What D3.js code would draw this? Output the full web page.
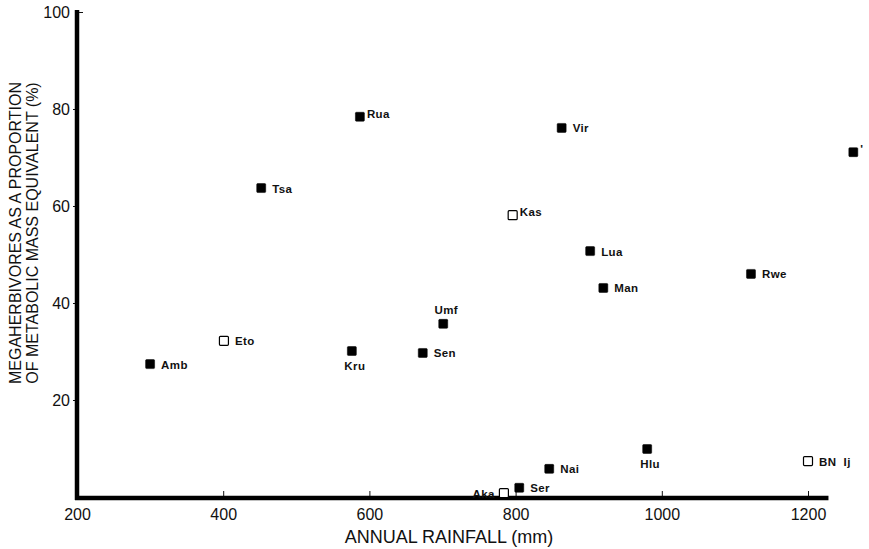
<!DOCTYPE html>
<html>
<head>
<meta charset="utf-8">
<script src="https://cdn.jsdelivr.net/npm/d3@7"></script>
<style>
  body { margin: 0; background: #fff; }
  svg { display: block; }
  .tick text { font-family: "Liberation Sans", Arial, sans-serif; font-size: 16px; fill: #111; }
  .site { font-family: "Liberation Sans", Arial, sans-serif; font-size: 11.5px; font-weight: bold; letter-spacing: 0.4px; fill: #111; white-space: pre; }
  .x-title { font-family: "Liberation Sans Narrow", "Arial Narrow", "Liberation Sans", sans-serif; font-size: 18px; fill: #111; }
  .y-title { font-family: "Liberation Sans", Arial, sans-serif; font-size: 16px; fill: #111; }
</style>
</head>
<body>
<div id="chart"></div>
<script>
// site codes, annual rainfall (mm) and megaherbivore share (%)
var sites    = ["Amb", "Eto", "Tsa", "Rua", "Kru", "Sen", "Umf", "Kas", "Vir", "Lua", "Man", "Rwe", "Hlu", "Nai", "Ser", "Aka", "BN  Ij", "'"];
var rainfall = [300, 401, 452, 587, 576, 673, 701, 796, 863, 902, 920, 1122, 980, 846, 805, 784, 1200, 1262];
var megaPct  = [27.4, 32.2, 63.7, 78.4, 30.1, 29.7, 35.7, 58.1, 76.1, 50.7, 43.1, 46.0, 9.9, 5.8, 1.9, 0.8, 7.4, 71.1];
var isOpen   = [false, true, false, false, false, false, false, true, false, false, false, false, false, false, false, true, true, false];
// where the label sits relative to its marker
var labelSide = ["r", "r", "r", "sup", "b", "r", "t", "sup", "r", "r", "r", "r", "b", "r", "r", "l", "r", "sup"];

var xTicks = [200, 400, 600, 800, 1000, 1200];
var yTicks = [20, 40, 60, 80, 100];

var width = 869, height = 549;

var x = d3.scaleLinear().domain([200, 1200]).range([77, 808]);
var y = d3.scaleLinear().domain([0, 100]).range([497, 12]);

var svg = d3.select("#chart").append("svg")
    .attr("width", width)
    .attr("height", height);

// x axis: small inward ticks, labels below
var gx = svg.append("g")
    .attr("transform", "translate(0," + y(0) + ")")
    .call(d3.axisBottom(x).tickValues(xTicks).tickFormat(d3.format("d")).tickSizeInner(-6).tickSizeOuter(0).tickPadding(12));
gx.select(".domain").remove();
gx.selectAll(".tick line").attr("stroke", "#111").attr("stroke-width", 1);
gx.selectAll(".tick").filter(function(d) { return d === 200; }).select("line").remove();

// y axis: small outward ticks
var gy = svg.append("g")
    .attr("transform", "translate(" + x(200) + ",0)")
    .call(d3.axisLeft(y).tickValues(yTicks).tickSizeInner(4).tickSizeOuter(0).tickPadding(3));
gy.select(".domain").remove();
gy.selectAll(".tick line").attr("stroke", "#111").attr("stroke-width", 1);
gy.selectAll(".tick").filter(function(d) { return d === 100; }).select("line")
    .attr("x2", 6);

// heavy axis lines
svg.append("line")
    .attr("x1", x(200) - 2).attr("x2", x(1228))
    .attr("y1", y(0) + 1).attr("y2", y(0) + 1)
    .attr("stroke", "#000").attr("stroke-width", 4.5);
svg.append("line")
    .attr("x1", x(200)).attr("x2", x(200))
    .attr("y1", y(100.4)).attr("y2", y(0) + 3)
    .attr("stroke", "#000").attr("stroke-width", 4.5);

// axis titles
svg.append("text")
    .attr("class", "x-title")
    .attr("x", 449).attr("y", 543)
    .attr("text-anchor", "middle")
    .text("ANNUAL RAINFALL (mm)");

var yt = svg.append("text")
    .attr("class", "y-title")
    .attr("transform", "translate(0,233) rotate(-90)")
    .attr("text-anchor", "middle");
yt.append("tspan").attr("x", 0).attr("y", 21).text("MEGAHERBIVORES AS A PROPORTION");
yt.append("tspan").attr("x", 0).attr("y", 38).text("OF METABOLIC MASS EQUIVALENT (%)");

// points
var pts = d3.range(sites.length).map(function(i) {
  return { site: sites[i], rain: rainfall[i], pct: megaPct[i], open: isOpen[i], side: labelSide[i] };
});

var s = 9;
svg.append("g").selectAll("rect")
  .data(pts)
  .enter().append("rect")
    .attr("x", function(d) { return x(d.rain) - s / 2; })
    .attr("y", function(d) { return y(d.pct) - s / 2; })
    .attr("width", s).attr("height", s)
    .attr("rx", 1)
    .attr("fill", function(d) { return d.open ? "#fff" : "#000"; })
    .attr("stroke", "#000")
    .attr("stroke-width", function(d) { return d.open ? 1.2 : 0.5; });

svg.append("g").selectAll("text")
  .data(pts)
  .enter().append("text")
    .attr("class", "site")
    .attr("x", function(d) {
      var cx = x(d.rain);
      if (d.side === "b" || d.side === "t") return cx + 3;
      if (d.side === "l") return cx - 9;
      if (d.side === "sup") return cx + 7;
      return cx + 11;
    })
    .attr("y", function(d) {
      var cy = y(d.pct);
      if (d.side === "b") return cy + 19;
      if (d.side === "t") return cy - 10;
      if (d.side === "sup") return cy + 1;
      return cy + 4.5;
    })
    .attr("text-anchor", function(d) {
      if (d.side === "b" || d.side === "t") return "middle";
      if (d.side === "l") return "end";
      return "start";
    })
    .text(function(d) { return d.site; });
</script>
</body>
</html>
